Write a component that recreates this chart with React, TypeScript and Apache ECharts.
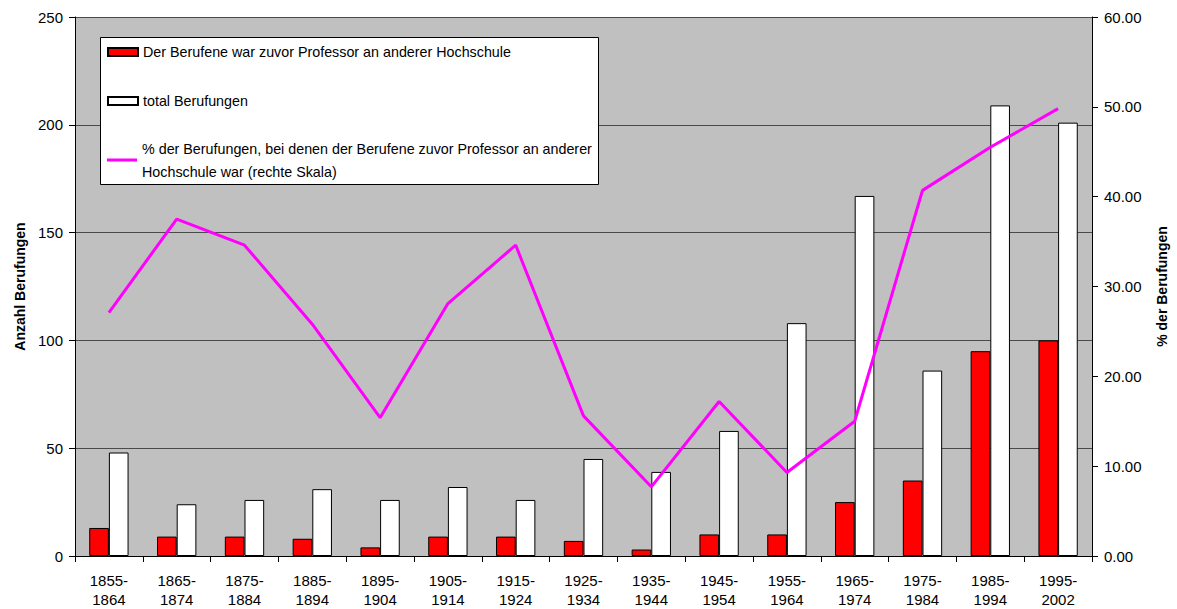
import React, { useEffect, useRef } from "react";
import * as echarts from "echarts";

const categories = [
  "1855-\n1864", "1865-\n1874", "1875-\n1884", "1885-\n1894", "1895-\n1904",
  "1905-\n1914", "1915-\n1924", "1925-\n1934", "1935-\n1944", "1945-\n1954",
  "1955-\n1964", "1965-\n1974", "1975-\n1984", "1985-\n1994", "1995-\n2002",
];
const previousProfessor = [13, 9, 9, 8, 4, 9, 9, 7, 3, 10, 10, 25, 35, 95, 100];
const totalAppointments = [48, 24, 26, 31, 26, 32, 26, 45, 39, 58, 108, 167, 86, 209, 201];
const sharePercent = [27.1, 37.5, 34.6, 25.8, 15.4, 28.1, 34.6, 15.6, 7.7, 17.2, 9.3, 15.0, 40.7, 45.5, 49.8];

const nameRed = "Der Berufene war zuvor Professor an anderer Hochschule";
const nameWhite = "total Berufungen";
const nameLine = "% der Berufungen, bei denen der Berufene zuvor Professor an anderer Hochschule war (rechte Skala)";

const FONT = "'Liberation Sans', Arial, Helvetica, sans-serif";

export default function App() {
  const ref = useRef<HTMLDivElement>(null);
  useEffect(() => {
    if (!ref.current) return;
    const chart = echarts.init(ref.current, undefined, { renderer: "svg" });
    chart.setOption({
      animation: false,
      textStyle: { fontFamily: FONT, color: "#000" },
      grid: {
        left: 75, right: 84, top: 17, bottom: 52,
        show: true, backgroundColor: "#c0c0c0", borderWidth: 0,
      },
      graphic: [
        {
          type: "rect", z: 3,
          shape: { x: 100.5, y: 37.5, width: 498, height: 147 },
          style: { fill: "#fff", stroke: "#000", lineWidth: 1 },
        },
      ],
      legend: [
        {
          orient: "vertical", left: 107, top: 44, padding: 0, z: 5,
          itemWidth: 30, itemHeight: 8, itemGap: 33, selectedMode: false,
          icon: "rect",
          data: [nameRed, nameWhite],
          textStyle: { fontSize: 14.3, lineHeight: 16, color: "#000", fontFamily: FONT },
        },
        {
          orient: "vertical", left: 107, top: 125.5, padding: 0, z: 5,
          itemWidth: 30, itemHeight: 3, selectedMode: false,
          icon: "rect",
          data: [nameLine],
          formatter: () =>
            "% der Berufungen, bei denen der Berufene zuvor Professor an anderer\nHochschule war (rechte Skala)",
          textStyle: { fontSize: 14.3, lineHeight: 23, padding: [23, 0, 0, 0], color: "#000", fontFamily: FONT },
        },
      ],
      xAxis: {
        type: "category",
        data: categories,
        boundaryGap: true,
        axisLine: { lineStyle: { color: "#000", width: 1 } },
        axisTick: { show: true, length: 6, lineStyle: { color: "#000" } },
        axisLabel: { fontSize: 15, lineHeight: 19, margin: 15, color: "#000", fontFamily: FONT, interval: 0 },
      },
      yAxis: [
        {
          type: "value", min: 0, max: 250, interval: 50, position: "left",
          name: "Anzahl Berufungen", nameLocation: "middle", nameGap: 46,
          nameTextStyle: { fontSize: 14, fontWeight: "bold", color: "#000", fontFamily: FONT },
          axisLine: { show: true, lineStyle: { color: "#000" } },
          axisTick: { show: true, length: 6, lineStyle: { color: "#000" } },
          axisLabel: { fontSize: 15, margin: 12, color: "#000", fontFamily: FONT },
          splitLine: { show: true, lineStyle: { color: "#4a4a4a", width: 1 } },
        },
        {
          type: "value", min: 0, max: 60, interval: 10, position: "right",
          name: "% der Berufungen", nameLocation: "middle", nameGap: 63, nameRotate: 90,
          nameTextStyle: { fontSize: 14, fontWeight: "bold", color: "#000", fontFamily: FONT },
          axisLine: { show: true, lineStyle: { color: "#000" } },
          axisTick: { show: true, length: 6, lineStyle: { color: "#000" } },
          axisLabel: { fontSize: 15, margin: 12, color: "#000", fontFamily: FONT, formatter: (v: number) => v.toFixed(2) },
          splitLine: { show: false },
        },
      ],
      series: [
        {
          name: nameRed, type: "bar", data: previousProfessor,
          barGap: "0%", barCategoryGap: "42%",
          itemStyle: { color: "#ff0000", borderColor: "#000", borderWidth: 1 },
        },
        {
          name: nameWhite, type: "bar", data: totalAppointments,
          itemStyle: { color: "#ffffff", borderColor: "#000", borderWidth: 1 },
        },
        {
          name: nameLine, type: "line", yAxisIndex: 1, data: sharePercent,
          symbol: "none", z: 4,
          lineStyle: { color: "#ff00ff", width: 3 },
          itemStyle: { color: "#ff00ff" },
        },
      ],
    });
    return () => chart.dispose();
  }, []);
  return (
    <div
      ref={ref}
      style={{ position: "absolute", left: 0, top: 0, width: 1177, height: 609 }}
    />
  );
}
